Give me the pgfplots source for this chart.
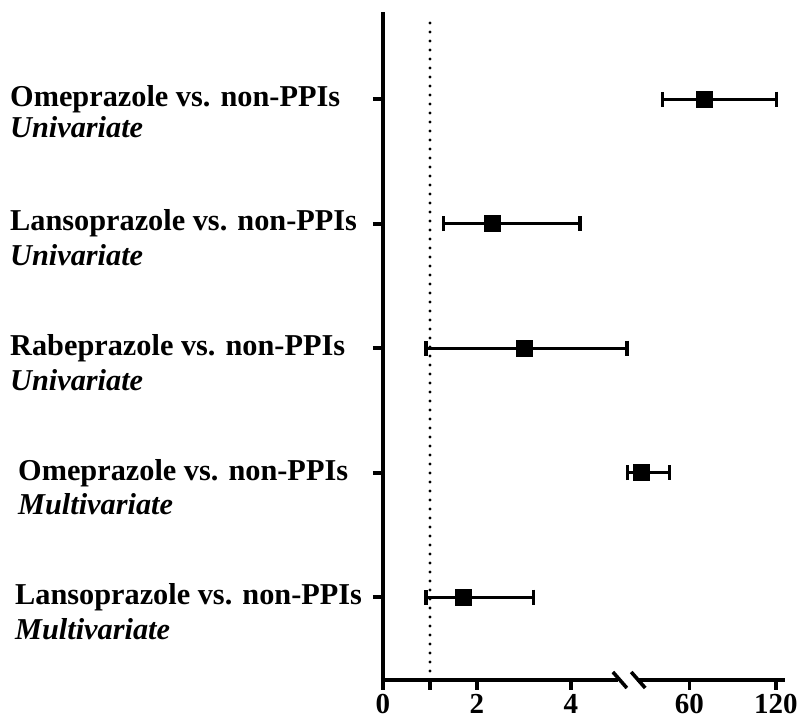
\documentclass[border=0pt]{standalone}
\usepackage{pgfplots}
\pgfplotsset{compat=1.18}
\usepackage{fontspec}
\setmainfont{Liberation Serif}
\begin{document}
\begin{tikzpicture}
\path[use as bounding box] (-383pt,-42pt) rectangle (415pt,680pt);
% positions on the broken axis: 0..5 linear; 60 -> 6.52, 120 -> 8.36
\begin{axis}[
  at={(0pt,0pt)}, anchor=south west,
  x=47pt, y=124.5pt,
  xmin=0, xmax=8.51, ymin=0.335, ymax=5.70,
  clip=false,
  axis lines=left,
  axis line style={line width=4.2pt,-},
  x axis line style={draw=none},
  tick align=outside,
  major tick length=10pt,
  tick style={line width=3.6pt,black},
  xtick={0,1,2,4,6.52,8.36},
  xticklabels={0,,2,4,60,120},
  ytick={1,2,3,4,5},
  yticklabels={},
  xticklabel style={font=\fontsize{29}{32}\selectfont\bfseries, yshift=-1pt},
  /pgf/number format/assume math mode=true,
]
% x axis with break
\draw[line width=4.2pt] ([xshift=-2.1pt]axis cs:0,0.335) -- (axis cs:5.0,0.335);
\draw[line width=4.2pt] (axis cs:5.40,0.335) -- ([xshift=2pt]axis cs:8.51,0.335);
\draw[line width=3.6pt] ([xshift=-7pt,yshift=8pt]axis cs:5.04,0.335) -- ([xshift=7pt,yshift=-8pt]axis cs:5.04,0.335);
\draw[line width=3.6pt] ([xshift=-7pt,yshift=8pt]axis cs:5.43,0.335) -- ([xshift=7pt,yshift=-8pt]axis cs:5.43,0.335);
% reference line at 1
\draw[line width=3.4pt, line cap=round, dash pattern=on 0pt off 9pt] (axis cs:1,0.335) -- (axis cs:1,5.68);
% estimates with CIs
\addplot[only marks, mark=square*, mark size=8pt, mark options={line width=0pt, fill=black},
  error bars/.cd, x dir=both, x explicit,
  error bar style={line width=3.2pt, black},
  error mark options={rotate=90, line width=3.2pt, mark size=7.5pt, black}]
  table[x=x, y=y, x error plus=ep, x error minus=em] {
  x    y  ep    em
  6.83 5  1.55  0.89
  2.32 4  1.87  1.04
  3.02 3  2.17  2.105
  5.49 2  0.60  0.28
  1.72 1  1.48  0.805
};
% row labels
\tikzset{rl/.style={anchor=base west, inner sep=0pt, font=\fontsize{30.3}{34}\selectfont\bfseries}}
\node[rl] at ([yshift=-7pt]axis cs:-7.936,5) {Omeprazole vs. non-PPIs};
\node[rl] at ([yshift=-38pt]axis cs:-7.936,5) {\itshape Univariate};
\node[rl] at ([yshift=-7pt]axis cs:-7.936,4) {Lansoprazole vs. non-PPIs};
\node[rl] at ([yshift=-42pt]axis cs:-7.936,4) {\itshape Univariate};
\node[rl] at ([yshift=-7pt]axis cs:-7.936,3) {Rabeprazole vs. non-PPIs};
\node[rl] at ([yshift=-42pt]axis cs:-7.936,3) {\itshape Univariate};
\node[rl] at ([yshift=-8pt]axis cs:-7.766,2) {Omeprazole vs. non-PPIs};
\node[rl] at ([yshift=-42pt]axis cs:-7.766,2) {\itshape Multivariate};
\node[rl] at ([yshift=-7pt]axis cs:-7.83,1) {Lansoprazole vs. non-PPIs};
\node[rl] at ([yshift=-42pt]axis cs:-7.83,1) {\itshape Multivariate};
\end{axis}
\end{tikzpicture}
\end{document}
